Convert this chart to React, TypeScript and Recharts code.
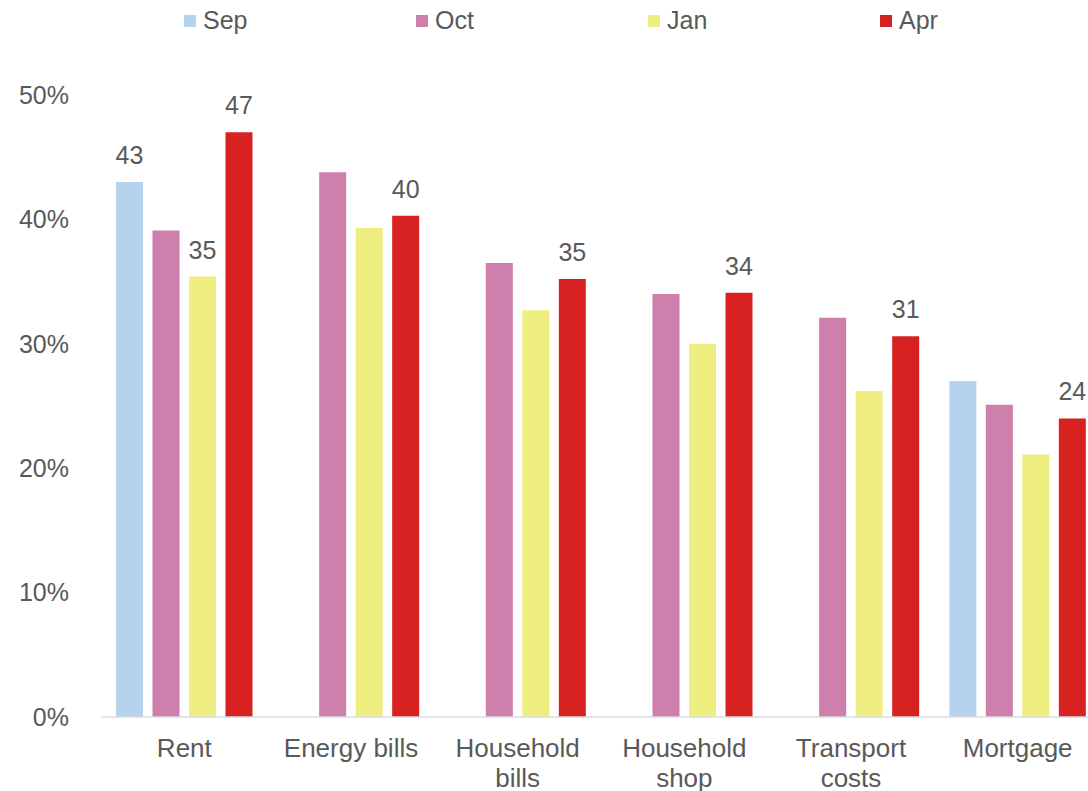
import React from "react";
import { BarChart, Bar, XAxis, YAxis, LabelList } from "recharts";

const categories = [
  "Rent",
  "Energy bills",
  "Household bills",
  "Household shop",
  "Transport costs",
  "Mortgage",
];

// share of respondents (%), one array per survey wave
const sep = [43.0, null, null, null, null, 27.0];
const oct = [39.1, 43.8, 36.5, 34.0, 32.1, 25.1];
const jan = [35.4, 39.3, 32.7, 30.0, 26.2, 21.1];
const apr = [47.0, 40.3, 35.2, 34.1, 30.6, 24.0];

// which bars get a value label on top
const sepLabelled = [true, false, false, false, false, true];
const octLabelled = [false, false, false, false, false, false];
const janLabelled = [true, false, false, false, false, false];
const aprLabelled = [true, true, true, true, true, true];

const yTicks = [0, 10, 20, 30, 40, 50];

const series = [
  { key: "sep", name: "Sep", color: "#b5d3ed", values: sep, labelled: sepLabelled },
  { key: "oct", name: "Oct", color: "#ce7fab", values: oct, labelled: octLabelled },
  { key: "jan", name: "Jan", color: "#efee81", values: jan, labelled: janLabelled },
  { key: "apr", name: "Apr", color: "#d82222", values: apr, labelled: aprLabelled },
];

const data = categories.map((name, i) => {
  const row: Record<string, string | number | null> = { name };
  series.forEach((s) => {
    row[s.key] = s.values[i];
  });
  return row;
});

const FONT = "'Liberation Sans', Arial, sans-serif";
const TEXT = "#595959";
const FONT_SIZE = 25;
const CAT_FONT_SIZE = 26;

// greedy word wrap against a max pixel width, measured on a canvas
let measureCtx: CanvasRenderingContext2D | null = null;
function wrapWords(label: string, maxWidth: number): string[] {
  if (!measureCtx) measureCtx = document.createElement("canvas").getContext("2d");
  const ctx = measureCtx!;
  ctx.font = `${CAT_FONT_SIZE}px ${FONT}`;
  const lines: string[] = [];
  let current = "";
  label.split(" ").forEach((word) => {
    const candidate = current ? `${current} ${word}` : word;
    if (current && ctx.measureText(candidate).width > maxWidth) {
      lines.push(current);
      current = word;
    } else {
      current = candidate;
    }
  });
  if (current) lines.push(current);
  return lines;
}

function CategoryTick(props: any) {
  const { x, y, payload } = props;
  const lines = wrapWords(String(payload.value), 160);
  return (
    <text x={x} y={y} textAnchor="middle" fill={TEXT} fontSize={CAT_FONT_SIZE} fontFamily={FONT}>
      {lines.map((line, i) => (
        <tspan key={i} x={x} dy={i === 0 ? "0.71em" : 30}>
          {line}
        </tspan>
      ))}
    </text>
  );
}

function makeLabel(labelled: boolean[]) {
  return (props: any) => {
    const { x, y, width, value, index } = props;
    if (!labelled[index] || value == null) return null;
    return (
      <text
        x={x + width / 2}
        y={y - 18}
        textAnchor="middle"
        fill={TEXT}
        fontSize={FONT_SIZE}
        fontFamily={FONT}
      >
        {Math.round(value)}
      </text>
    );
  };
}

function LegendRow() {
  return (
    <div
      style={{
        position: "absolute",
        top: 8,
        left: 184,
        display: "flex",
        fontFamily: FONT,
        fontSize: FONT_SIZE,
        lineHeight: "25px",
        color: TEXT,
      }}
    >
      {series.map((s) => (
        <div key={s.key} style={{ width: 232, display: "flex", alignItems: "center" }}>
          <span
            style={{
              width: 12,
              height: 12,
              background: s.color,
              marginRight: 7,
              display: "inline-block",
            }}
          />
          <span>{s.name}</span>
        </div>
      ))}
    </div>
  );
}

export default function App() {
  return (
    <div
      style={{
        position: "absolute",
        top: 0,
        left: 0,
        width: 1088,
        height: 791,
        overflow: "hidden",
        background: "#ffffff",
      }}
    >
      <LegendRow />
      <BarChart
        width={1101}
        height={791}
        data={data}
        margin={{ top: 95, right: 0, bottom: 0, left: 0 }}
        barCategoryGap={15}
        barGap={9.5}
      >
        <XAxis
          dataKey="name"
          height={74}
          tickSize={0}
          tickMargin={22}
          tick={<CategoryTick />}
          axisLine={{ stroke: "#d9dde2", strokeWidth: 1.5 }}
          interval={0}
        />
        <YAxis
          width={101}
          domain={[0, 50]}
          ticks={yTicks}
          tickFormatter={(v: number) => `${v}%`}
          tickSize={0}
          tickMargin={32}
          axisLine={false}
          tick={{ fill: TEXT, fontSize: FONT_SIZE, fontFamily: FONT }}
        />
        {series.map((s) => (
          <Bar key={s.key} dataKey={s.key} name={s.name} fill={s.color} isAnimationActive={false}>
            <LabelList dataKey={s.key} content={makeLabel(s.labelled)} />
          </Bar>
        ))}
      </BarChart>
    </div>
  );
}
